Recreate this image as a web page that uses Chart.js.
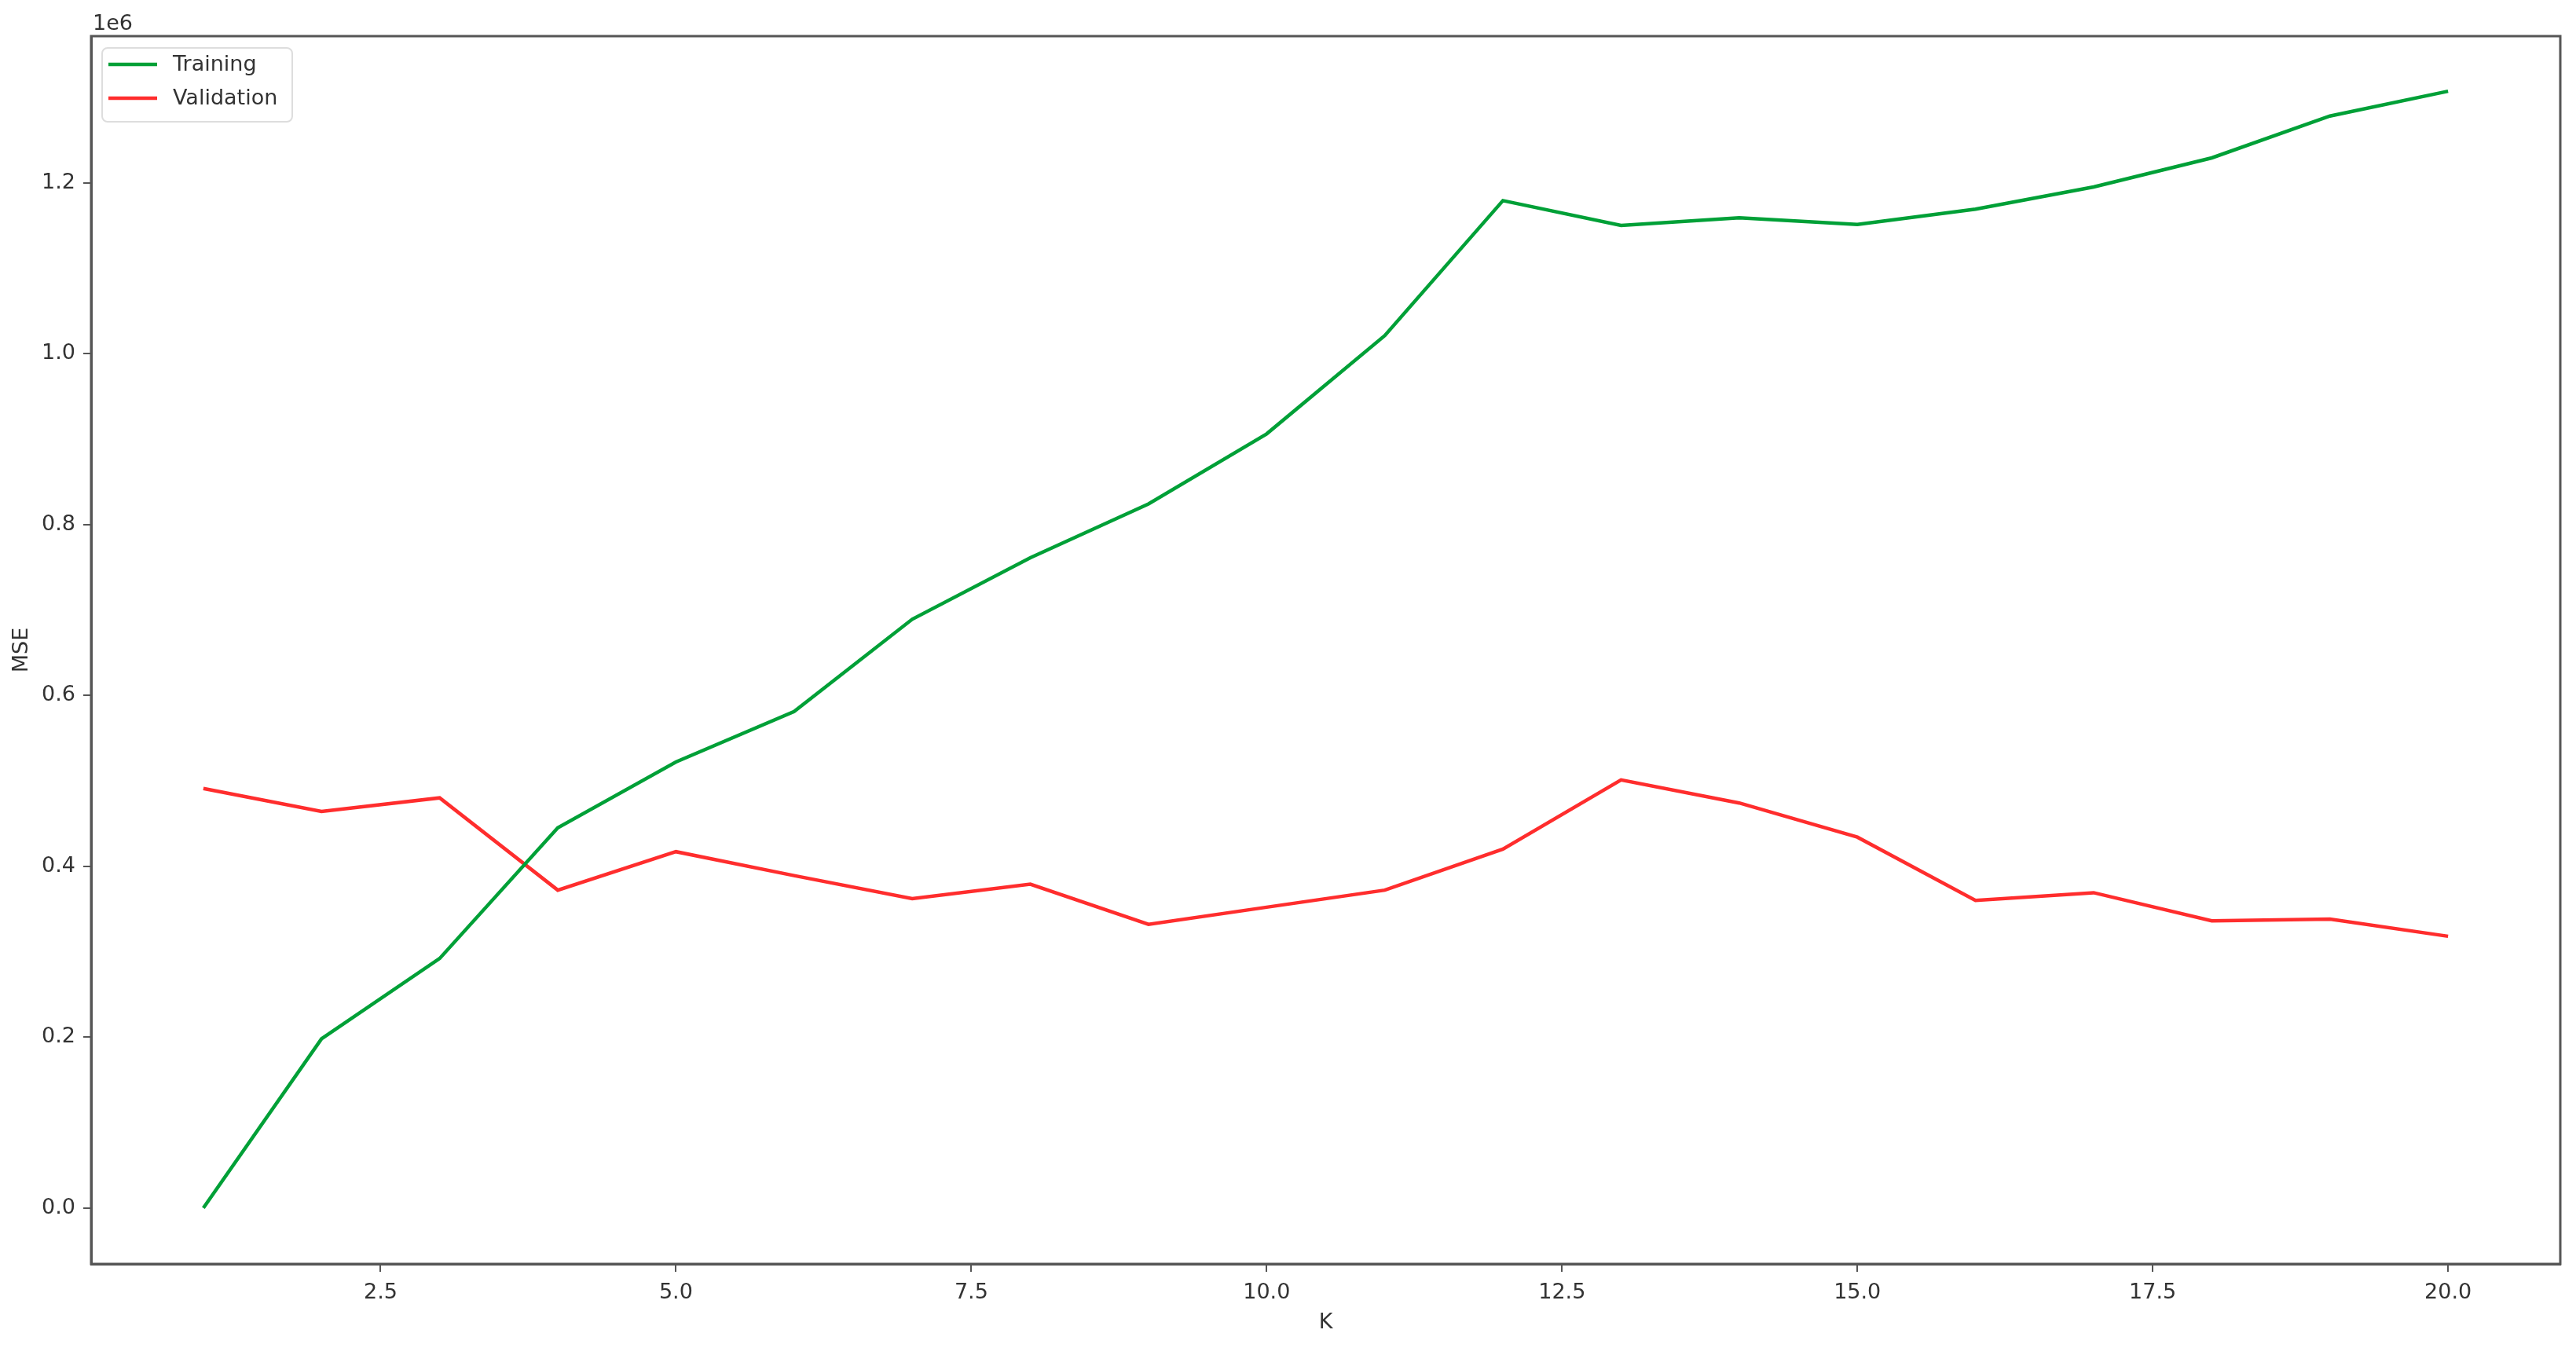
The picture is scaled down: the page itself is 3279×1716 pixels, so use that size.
<!DOCTYPE html>
<html lang="en">

<head>
    <meta charset="UTF-8">
    <meta name="viewport" content="width=device-width, initial-scale=1.0">
    <script src="https://cdn.jsdelivr.net/npm/chart.js"></script>
    <title>K x MSE</title>
    <style>
        body {
            margin: 0;
            background: #fff;
        }

        .dash {
            width: 3279px;
            height: 1716px;
        }
    </style>
</head>

<body>
    <div class="dash">
        <canvas id="myChart" width="3279" height="1716"></canvas>
    </div>
</body>

</html>

<script>
    let kValores = [1, 2, 3, 4, 5, 6, 7, 8, 9, 10, 11, 12, 13, 14, 15, 16, 17, 18, 19, 20]
    let training = [0, 198000, 292000, 445000, 522000, 581000, 689000, 761000, 824000, 906000,
        1021000, 1179000, 1150000, 1159000, 1151000, 1169000, 1195000, 1229000, 1278000, 1307000]
    let validation = [491000, 464000, 480000, 372000, 417000, 389000, 362000, 379000, 332000, 352000,
        372000, 420000, 501000, 474000, 434000, 360000, 369000, 336000, 338000, 318000]

    let xTicks = [2.5, 5, 7.5, 10, 12.5, 15, 17.5, 20]
    let yTicks = [0, 200000, 400000, 600000, 800000, 1000000, 1200000]

    const verde = 'rgb(0, 160, 55)'
    const vermelho = 'rgb(255, 45, 45)'
    const cinza = '#555'
    const texto = '#333'
    const fonte = { family: 'DejaVu Sans', size: 27 }

    Chart.defaults.font.family = 'DejaVu Sans'

    // moldura do eixo, texto "1e6" e legenda no canto
    const extras = {
        id: 'extras',
        afterDraw(chart) {
            const c = chart.ctx
            const a = chart.chartArea
            c.save()
            c.strokeStyle = cinza
            c.lineWidth = 3
            c.strokeRect(a.left, a.top, a.right - a.left, a.bottom - a.top)

            c.fillStyle = texto
            c.font = '27px "DejaVu Sans"'
            c.textBaseline = 'alphabetic'
            c.textAlign = 'left'
            c.fillText('1e6', a.left + 2, a.top - 8)

            // legenda
            const lx = a.left + 14
            const ly = a.top + 15
            c.beginPath()
            c.roundRect(lx, ly, 242, 94, 7)
            c.fillStyle = 'rgba(255, 255, 255, 0.8)'
            c.fill()
            c.strokeStyle = '#ddd'
            c.lineWidth = 2
            c.stroke()

            const itens = [['Training', verde], ['Validation', vermelho]]
            for (var i = 0; i < itens.length; i++) {
                const y = ly + 21 + i * 43
                c.beginPath()
                c.moveTo(lx + 8, y)
                c.lineTo(lx + 70, y)
                c.strokeStyle = itens[i][1]
                c.lineWidth = 4.5
                c.stroke()
                c.fillStyle = texto
                c.textBaseline = 'middle'
                c.fillText(itens[i][0], lx + 90, y + 1)
            }
            c.restore()
        }
    }

    function plotarGrafico() {
        const ctx = document.getElementById('myChart')

        new Chart(ctx, {
            type: 'line',
            data: {
                datasets: [{
                    label: 'Training',
                    data: kValores.map((k, i) => ({ x: k, y: training[i] })),
                    borderColor: verde,
                    borderWidth: 4.5,
                    pointRadius: 0,
                    tension: 0
                }, {
                    label: 'Validation',
                    data: kValores.map((k, i) => ({ x: k, y: validation[i] })),
                    borderColor: vermelho,
                    borderWidth: 4.5,
                    pointRadius: 0,
                    tension: 0
                }]
            },
            options: {
                responsive: false,
                animation: false,
                layout: {
                    padding: { top: 46, right: 20, left: 0, bottom: 0 }
                },
                plugins: {
                    legend: { display: false },
                    tooltip: { enabled: false }
                },
                scales: {
                    x: {
                        type: 'linear',
                        min: 0.05,
                        max: 20.95,
                        afterBuildTicks: axis => { axis.ticks = xTicks.map(v => ({ value: v })) },
                        afterFit: axis => { axis.height = 107 },
                        ticks: {
                            color: texto,
                            font: fonte,
                            padding: 11,
                            maxRotation: 0,
                            autoSkip: false,
                            callback: v => v.toFixed(1)
                        },
                        grid: { drawOnChartArea: false, color: cinza, lineWidth: 2, tickLength: 10 },
                        border: { color: cinza, width: 3 },
                        title: { display: true, text: 'K', color: texto, font: fonte, padding: { top: 0, bottom: 16 } }
                    },
                    y: {
                        min: -65500,
                        max: 1371500,
                        afterBuildTicks: axis => { axis.ticks = yTicks.map(v => ({ value: v })) },
                        afterFit: axis => { axis.width = 116 },
                        ticks: {
                            color: texto,
                            font: fonte,
                            padding: 10,
                            callback: v => (v / 1000000).toFixed(1)
                        },
                        grid: { drawOnChartArea: false, color: cinza, lineWidth: 2, tickLength: 10 },
                        border: { color: cinza, width: 3 },
                        title: { display: true, text: 'MSE', color: texto, font: fonte, padding: { top: 12, bottom: 0 } }
                    }
                }
            },
            plugins: [extras]
        })
    }

    plotarGrafico()
</script>
